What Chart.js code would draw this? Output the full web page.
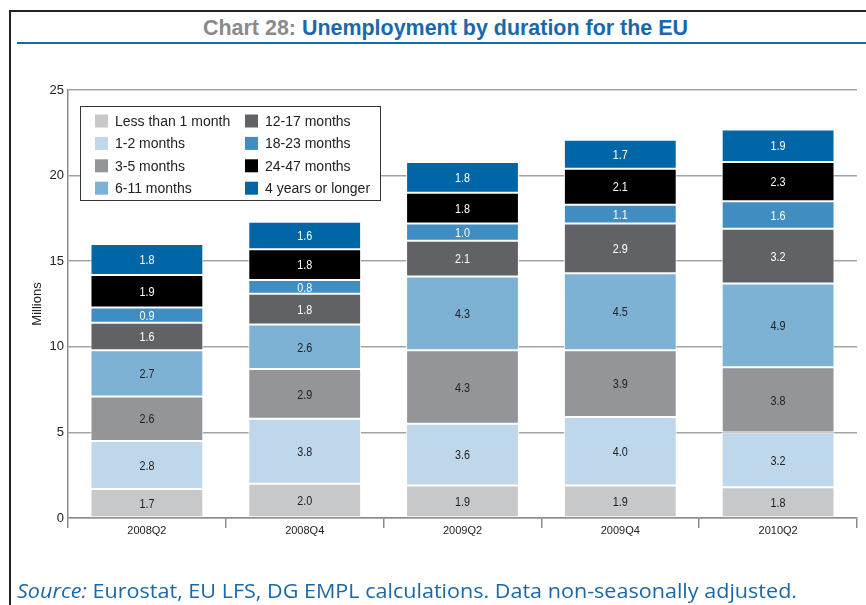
<!DOCTYPE html>
<html>
<head>
<meta charset="utf-8">
<script src="https://cdn.jsdelivr.net/npm/chart.js@4.4.0/dist/chart.umd.min.js"></script>
<style>
  html, body { margin:0; padding:0; background:#fff; }
  body { width:866px; height:605px; position:relative; overflow:hidden; }
  #frameL { position:absolute; left:9px; top:10px; width:2px; height:600px; background:#222; }
  #frameT { position:absolute; left:9px; top:10px; width:857px; height:2px; background:#222; }
  #title { position:absolute; left:0; top:17px; white-space:nowrap; line-height:1;
           font-family:"Liberation Sans",sans-serif; font-weight:bold; font-size:22.5px; transform-origin:0 0; }
  #title .g { color:#8a8a8c; }
  #title .b { color:#1a68a9; }
  #rule { position:absolute; left:17px; top:42px; width:849px; height:2px; background:#1a68a9; }
  #src { position:absolute; left:17px; top:581px; line-height:1; font-family:"Open Sans","Noto Sans",sans-serif; font-size:20px; color:#1a68a9; white-space:nowrap; transform-origin:0 0; }
  #wrap { position:absolute; left:0; top:0; width:866px; height:605px; }
</style>
</head>
<body>
<div id="frameL"></div><div id="frameT"></div>
<div id="title"><span class="g">Chart 28: </span><span class="b">Unemployment by duration for the EU</span></div>
<div id="rule"></div>
<div id="wrap"><canvas id="c" width="866" height="605"></canvas></div>
<div id="src"><i>Source:</i> Eurostat, EU LFS, DG EMPL calculations. Data non-seasonally adjusted.</div>
<script>
const categories = ["2008Q2", "2008Q4", "2009Q2", "2009Q4", "2010Q2"];
const seriesNames = ["Less than 1 month", "1-2 months", "3-5 months", "6-11 months",
                     "12-17 months", "18-23 months", "24-47 months", "4 years or longer"];
const lessThan1Month = [1.7, 2.0, 1.9, 1.9, 1.8];
const months1to2     = [2.8, 3.8, 3.6, 4.0, 3.2];
const months3to5     = [2.6, 2.9, 4.3, 3.9, 3.8];
const months6to11    = [2.7, 2.6, 4.3, 4.5, 4.9];
const months12to17   = [1.6, 1.8, 2.1, 2.9, 3.2];
const months18to23   = [0.9, 0.8, 1.0, 1.1, 1.6];
const months24to47   = [1.9, 1.8, 1.8, 2.1, 2.3];
const years4plus     = [1.8, 1.6, 1.8, 1.7, 1.9];
const yTicks = [0, 5, 10, 15, 20, 25];

// fit title and source text widths to the reference layout
(function () {
  const t = document.getElementById("title");
  const tw = t.getBoundingClientRect().width;
  t.style.transform = "scaleX(" + (485 / tw) + ")";
  t.style.left = "203px";
  const s = document.getElementById("src");
  const sw = s.getBoundingClientRect().width;
  s.style.transform = "scaleX(" + (780 / sw) + ")";
})();

const seriesValues = [lessThan1Month, months1to2, months3to5, months6to11,
                      months12to17, months18to23, months24to47, years4plus];
const colors = ["#c7c8ca", "#bfd7ea", "#939598", "#7eb2d5", "#616266", "#3f8dc1", "#000000", "#0066a6"];
const labelColors = ["#222", "#222", "#222", "#222", "#fff", "#fff", "#fff", "#fff"];

const datasets = seriesNames.map((n, i) => ({
  label: n, data: seriesValues[i], backgroundColor: colors[i],
  borderColor: "#ffffff", borderWidth: 1, borderSkipped: false,
  barPercentage: 0.715, categoryPercentage: 1.0
}));

const valueLabels = {
  id: "valueLabels",
  afterDatasetsDraw(chart) {
    const ctx = chart.ctx;
    ctx.font = "13.5px 'Liberation Sans',sans-serif";
    ctx.textAlign = "center"; ctx.textBaseline = "middle";
    chart.data.datasets.forEach((ds, i) => {
      const meta = chart.getDatasetMeta(i);
      meta.data.forEach((bar, j) => {
        const v = ds.data[j];
        const p = bar.getProps(["x", "y", "base"], true);
        ctx.save();
        ctx.translate(p.x, (p.y + p.base) / 2 + 1);
        ctx.scale(0.8, 1);
        ctx.fillStyle = labelColors[i];
        ctx.fillText(v.toFixed(1), 0, 0);
        ctx.restore();
      });
    });
  }
};

const boxLegend = {
  id: "boxLegend",
  afterDatasetsDraw(chart) {
    const ctx = chart.ctx;
    ctx.save();
    const x0 = 80.5, y0 = 106.5, w = 300, h = 94;
    ctx.fillStyle = "#fff"; ctx.fillRect(x0, y0, w, h);
    ctx.strokeStyle = "#333"; ctx.lineWidth = 1; ctx.strokeRect(x0, y0, w, h);
    ctx.font = "14px 'Liberation Sans',sans-serif";
    ctx.textBaseline = "middle"; ctx.textAlign = "left";
    chart.data.datasets.forEach((ds, i) => {
      const col = Math.floor(i / 4), row = i % 4;
      const sx = col === 0 ? 95 : 245;
      const cy = 121 + row * 22.4;
      ctx.fillStyle = ds.backgroundColor;
      ctx.fillRect(sx, cy - 6.5, 13, 13);
      ctx.fillStyle = "#222";
      ctx.fillText(ds.label, sx + 20, cy + 1);
    });
    ctx.restore();
  }
};

new Chart(document.getElementById("c"), {
  type: "bar",
  data: { labels: categories, datasets },
  options: {
    responsive: false, animation: false,
    layout: { padding: { top: 90, right: 9, left: 0, bottom: 0 } },
    plugins: { legend: { display: false }, tooltip: { enabled: false } },
    scales: {
      x: {
        stacked: true,
        afterFit(s) { s.height = 87; },
        grid: { offset: true, drawOnChartArea: false, drawTicks: true, tickLength: 10, color: "#8c8c8c", lineWidth: 1.5 },
        border: { color: "#8c8c8c", width: 1.5 },
        ticks: { color: "#222", padding: -4, font: { family: "'Liberation Sans',sans-serif", size: 11 } }
      },
      y: {
        stacked: true, min: 0, max: 25,
        afterFit(s) { s.width = 68; },
        afterBuildTicks(s) { s.ticks = yTicks.map(v => ({ value: v })); },
        grid: { color: "#a3a3a3", lineWidth: 1.5, drawTicks: false, tickLength: 0 },
        border: { color: "#8c8c8c", width: 1.5 },
        ticks: { color: "#222", padding: 4, font: { family: "'Liberation Sans',sans-serif", size: 13 } },
        title: { display: true, text: "Millions", color: "#222", padding: { top: 30, bottom: 0 },
                 font: { family: "'Liberation Sans',sans-serif", size: 13 } }
      }
    }
  },
  plugins: [valueLabels, boxLegend]
});
</script>
</body>
</html>
